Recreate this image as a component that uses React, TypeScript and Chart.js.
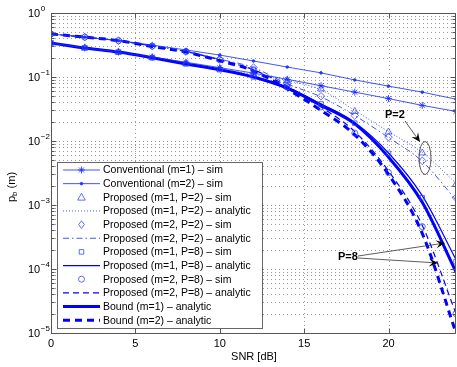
import React, { useEffect, useRef } from "react";
import { Chart, registerables } from "chart.js";

Chart.register(...registerables);

const snr = [0, 2, 4, 6, 8, 10, 12, 14, 16, 18, 20, 22, 24];
const xTickValues = [0, 5, 10, 15, 20];
const yDecades = [-5, -4, -3, -2, -1, 0];

const convM1 = [0.34, 0.285, 0.245, 0.205, 0.17, 0.14, 0.115, 0.092, 0.073, 0.058, 0.046, 0.036, 0.029];
const convM2 = [0.47, 0.42, 0.37, 0.315, 0.265, 0.22, 0.178, 0.143, 0.116, 0.09, 0.072, 0.058, 0.045];
const propM1P2Sim = [0.34, 0.285, 0.245, 0.2, 0.162, 0.133, 0.11, 0.088, 0.065, 0.029, 0.0138, 0.0065, 0.0021];
const propM1P2Ana = [0.34, 0.285, 0.245, 0.2, 0.162, 0.133, 0.11, 0.088, 0.063, 0.03, 0.014, 0.0066, 0.0022];
const propM2P2Sim = [0.47, 0.42, 0.37, 0.305, 0.25, 0.19, 0.14, 0.078, 0.05, 0.025, 0.0115, 0.0049, 0.0013];
const propM2P2Ana = [0.47, 0.42, 0.37, 0.305, 0.25, 0.19, 0.14, 0.078, 0.049, 0.025, 0.0113, 0.0048, 0.0012];
const propM1P8Sim = [0.34, 0.285, 0.245, 0.2, 0.16, 0.13, 0.1, 0.069, 0.038, 0.019, 0.0064, 0.0013, 0.00013];
const propM1P8Ana = [0.34, 0.285, 0.245, 0.2, 0.16, 0.13, 0.1, 0.069, 0.038, 0.0195, 0.0065, 0.0014, 0.00014];
const propM2P8Sim = [0.47, 0.42, 0.37, 0.305, 0.25, 0.185, 0.13, 0.072, 0.034, 0.0133, 0.0032, 0.00046, 0.00002];
const propM2P8Ana = [0.47, 0.42, 0.37, 0.305, 0.25, 0.185, 0.13, 0.072, 0.034, 0.014, 0.0034, 0.00048, 0.00002];
const boundM1 = [0.34, 0.285, 0.245, 0.2, 0.16, 0.13, 0.1, 0.067, 0.036, 0.0185, 0.0056, 0.0011, 0.00009];
const boundM2 = [0.47, 0.42, 0.37, 0.3, 0.245, 0.18, 0.125, 0.065, 0.03, 0.0125, 0.003, 0.00036, 0.00001];

const labels = [
  "Conventional (m=1) \u2013 sim",
  "Conventional (m=2) \u2013 sim",
  "Proposed (m=1, P=2) \u2013 sim",
  "Proposed (m=1, P=2) \u2013 analytic",
  "Proposed (m=2, P=2) \u2013 sim",
  "Proposed (m=2, P=2) \u2013 analytic",
  "Proposed (m=1, P=8) \u2013 sim",
  "Proposed (m=1, P=8) \u2013 analytic",
  "Proposed (m=2, P=8) \u2013 sim",
  "Proposed (m=2, P=8) \u2013 analytic",
  "Bound (m=1) \u2013 analytic",
  "Bound (m=2) \u2013 analytic",
];

const BLUE = "#0000ff";
const THIN = "rgba(20,40,255,0.8)";
const MARK = "rgba(40,60,255,0.75)";
const FONT = '"Liberation Sans", Arial, Helvetica, sans-serif';

function pts(vals: number[]) {
  return vals.map((v, i) => ({ x: snr[i], y: v }));
}

type Spec = {
  data: number[];
  line: boolean;
  width?: number;
  dash?: number[];
  marker?: string | false;
  radius?: number;
  fill?: boolean;
  color?: string;
  smooth?: boolean;
};

const specs: Spec[] = [
  { data: convM1, line: true, width: 1, marker: "star", radius: 3.5, color: THIN },
  { data: convM2, line: true, width: 1, marker: "circle", radius: 1.3, fill: true, color: THIN },
  { data: propM1P2Sim, line: false, marker: "triangle", radius: 4 },
  { data: propM1P2Ana, line: true, width: 1, dash: [1, 2], marker: false, color: THIN, smooth: true },
  { data: propM2P2Sim, line: false, marker: "rectRot", radius: 3.8 },
  { data: propM2P2Ana, line: true, width: 1, dash: [6, 3, 1.5, 3], marker: false, color: THIN, smooth: true },
  { data: propM1P8Sim, line: false, marker: "rect", radius: 3.2 },
  { data: propM1P8Ana, line: true, width: 1.2, marker: false, color: BLUE, smooth: true },
  { data: propM2P8Sim, line: false, marker: "circle", radius: 3 },
  { data: propM2P8Ana, line: true, width: 1.2, dash: [6, 4], marker: false, color: BLUE, smooth: true },
  { data: boundM1, line: true, width: 3, marker: false, color: BLUE, smooth: true },
  { data: boundM2, line: true, width: 3, dash: [7, 5], marker: false, color: BLUE, smooth: true },
];

function arrow(ctx: CanvasRenderingContext2D, x1: number, y1: number, x2: number, y2: number) {
  const ang = Math.atan2(y2 - y1, x2 - x1);
  const L = 9;
  const W = 4;
  ctx.beginPath();
  ctx.moveTo(x1, y1);
  ctx.lineTo(x2 - Math.cos(ang) * 4, y2 - Math.sin(ang) * 4);
  ctx.stroke();
  ctx.beginPath();
  ctx.moveTo(x2, y2);
  ctx.lineTo(x2 - L * Math.cos(ang) + W * Math.sin(ang), y2 - L * Math.sin(ang) - W * Math.cos(ang));
  ctx.lineTo(x2 - 0.6 * L * Math.cos(ang), y2 - 0.6 * L * Math.sin(ang));
  ctx.lineTo(x2 - L * Math.cos(ang) - W * Math.sin(ang), y2 - L * Math.sin(ang) + W * Math.cos(ang));
  ctx.closePath();
  ctx.fill();
}

function drawMarker(ctx: CanvasRenderingContext2D, style: string, x: number, y: number, r: number, fill: boolean) {
  ctx.beginPath();
  if (style === "circle") {
    ctx.arc(x, y, r, 0, Math.PI * 2);
    if (fill) ctx.fill();
    ctx.stroke();
  } else if (style === "triangle") {
    ctx.moveTo(x, y - r);
    ctx.lineTo(x + r * 0.95, y + r * 0.7);
    ctx.lineTo(x - r * 0.95, y + r * 0.7);
    ctx.closePath();
    ctx.stroke();
  } else if (style === "rectRot") {
    ctx.moveTo(x, y - r);
    ctx.lineTo(x + r * 0.75, y);
    ctx.lineTo(x, y + r);
    ctx.lineTo(x - r * 0.75, y);
    ctx.closePath();
    ctx.stroke();
  } else if (style === "rect") {
    const s = r * Math.SQRT1_2;
    ctx.rect(x - s, y - s, 2 * s, 2 * s);
    ctx.stroke();
  } else if (style === "star") {
    for (let k = 0; k < 4; k++) {
      const an = (k * Math.PI) / 4;
      ctx.moveTo(x + Math.cos(an) * r, y + Math.sin(an) * r);
      ctx.lineTo(x - Math.cos(an) * r, y - Math.sin(an) * r);
    }
    ctx.stroke();
  }
}

const matlabPlugin = {
  id: "matlabDecor",
  beforeDatasetsDraw(chart: any) {
    const { ctx, chartArea: a, scales } = chart;
    const x = scales.x;
    const y = scales.y;
    ctx.save();
    ctx.strokeStyle = "rgba(0,0,0,0.4)";
    ctx.lineWidth = 1;
    ctx.setLineDash([1, 3]);
    for (const e of yDecades) {
      for (let m = 1; m <= 9; m++) {
        const v = m * Math.pow(10, e);
        if (v > 1.0000001) break;
        const py = Math.round(y.getPixelForValue(v)) + 0.5;
        ctx.beginPath();
        ctx.moveTo(a.left, py);
        ctx.lineTo(a.right, py);
        ctx.stroke();
      }
    }
    for (const t of xTickValues) {
      const px = Math.round(x.getPixelForValue(t)) + 0.5;
      ctx.beginPath();
      ctx.moveTo(px, a.top);
      ctx.lineTo(px, a.bottom);
      ctx.stroke();
    }
    ctx.restore();
  },
  afterDraw(chart: any) {
    const { ctx, chartArea: a, scales } = chart;
    const x = scales.x;
    const y = scales.y;
    ctx.save();
    ctx.strokeStyle = "#555";
    ctx.lineWidth = 1;
    ctx.setLineDash([]);
    const L = Math.round(a.left) + 0.5;
    const T = Math.round(a.top) + 0.5;
    const B = Math.round(a.bottom) + 0.5;
    const R = Math.round(a.right) - 0.5;
    ctx.beginPath();
    ctx.moveTo(R, T);
    ctx.lineTo(L, T);
    ctx.lineTo(L, B);
    ctx.lineTo(R, B);
    ctx.lineTo(R, T);
    ctx.stroke();
    ctx.beginPath();
    for (const t of xTickValues) {
      const px = Math.round(x.getPixelForValue(t)) + 0.5;
      ctx.moveTo(px, B);
      ctx.lineTo(px, B - 5);
      ctx.moveTo(px, T);
      ctx.lineTo(px, T + 5);
    }
    for (const e of yDecades) {
      for (let m = 1; m <= 9; m++) {
        const v = m * Math.pow(10, e);
        if (v > 1.0000001) break;
        const py = Math.round(y.getPixelForValue(v)) + 0.5;
        const len = m === 1 ? 5 : 3;
        ctx.moveTo(L, py);
        ctx.lineTo(L + len, py);
        ctx.moveTo(R, py);
        ctx.lineTo(R - len, py);
      }
    }
    ctx.stroke();

    ctx.fillStyle = "#000";
    ctx.font = `11px ${FONT}`;
    ctx.textAlign = "center";
    ctx.textBaseline = "middle";
    for (const t of xTickValues) {
      ctx.fillText(String(t), x.getPixelForValue(t), 344);
    }
    for (const e of yDecades) {
      const py = y.getPixelForValue(Math.pow(10, e));
      ctx.font = `11px ${FONT}`;
      ctx.textAlign = "left";
      ctx.textBaseline = "middle";
      ctx.fillText("10", 28, py + 1);
      const w = ctx.measureText("10").width;
      ctx.font = `8px ${FONT}`;
      ctx.fillText(e === 0 ? "0" : "\u2212" + String(-e), 28 + w + 0.5, py - 4);
    }
    ctx.font = `11px ${FONT}`;
    ctx.textAlign = "center";
    ctx.textBaseline = "middle";
    ctx.fillText("SNR [dB]", (a.left + 457) / 2, 357);
    ctx.save();
    ctx.translate(12, 187);
    ctx.rotate(-Math.PI / 2);
    ctx.font = `11px ${FONT}`;
    ctx.textAlign = "left";
    ctx.textBaseline = "middle";
    const wp = ctx.measureText("p").width;
    ctx.font = `8px ${FONT}`;
    const wb = ctx.measureText("b").width;
    ctx.font = `11px ${FONT}`;
    const wm = ctx.measureText(" (m)").width;
    let cx = -(wp + wb + wm) / 2;
    ctx.fillText("p", cx, 0);
    cx += wp;
    ctx.font = `8px ${FONT}`;
    ctx.fillText("b", cx, 3);
    cx += wb;
    ctx.font = `11px ${FONT}`;
    ctx.fillText(" (m)", cx, 0);
    ctx.restore();

    const bx = 57.5, by = 162.5, bw = 205, bh = 166;
    ctx.fillStyle = "#fff";
    ctx.fillRect(bx, by, bw, bh);
    ctx.strokeStyle = "#666";
    ctx.lineWidth = 1;
    ctx.strokeRect(bx, by, bw, bh);
    const rowH = 13.65;
    specs.forEach((s, i) => {
      const ry = 170 + i * rowH;
      const col = s.color || BLUE;
      if (s.line) {
        ctx.save();
        ctx.strokeStyle = col;
        ctx.lineWidth = s.width || 1;
        ctx.setLineDash(s.dash || []);
        ctx.beginPath();
        ctx.moveTo(63, ry);
        ctx.lineTo(100, ry);
        ctx.stroke();
        ctx.restore();
      }
      if (s.marker) {
        ctx.save();
        ctx.strokeStyle = s.line ? col : MARK;
        ctx.fillStyle = s.fill ? col : "rgba(0,0,0,0)";
        ctx.lineWidth = 1;
        ctx.setLineDash([]);
        drawMarker(ctx, s.marker as string, 81.5, ry, s.radius || 3, !!s.fill);
        ctx.restore();
      }
      ctx.fillStyle = "#000";
      ctx.font = `10.5px ${FONT}`;
      ctx.textAlign = "left";
      ctx.textBaseline = "middle";
      ctx.fillText(labels[i], 103, ry + 0.5);
    });

    ctx.fillStyle = "#000";
    ctx.font = `bold 11px ${FONT}`;
    ctx.textAlign = "left";
    ctx.textBaseline = "middle";
    ctx.fillText("P=2", 385, 115);
    ctx.fillText("P=8", 338, 257);
    ctx.strokeStyle = "#333";
    ctx.fillStyle = "#000";
    ctx.lineWidth = 0.8;
    arrow(ctx, 405, 121, 420, 142);
    arrow(ctx, 358, 256, 445, 243);
    arrow(ctx, 358, 258, 438, 263);
    ctx.strokeStyle = "#555";
    ctx.lineWidth = 1;
    ctx.beginPath();
    ctx.ellipse(425, 158, 6, 16.5, 0, 0, Math.PI * 2);
    ctx.stroke();
    ctx.restore();
  },
};

export default function App() {
  const ref = useRef<HTMLCanvasElement | null>(null);
  useEffect(() => {
    if (!ref.current) return;
    const datasets = specs.map((s, i) => ({
      label: labels[i],
      data: pts(s.data),
      showLine: s.line,
      borderColor: s.color || BLUE,
      borderWidth: s.width || 1,
      borderDash: s.dash || [],
      cubicInterpolationMode: s.smooth ? "monotone" : "default",
      pointStyle: s.marker || false,
      pointRadius: s.marker ? s.radius || 3 : 0,
      pointBorderColor: s.line ? s.color || BLUE : MARK,
      pointBackgroundColor: s.fill ? s.color || BLUE : "rgba(0,0,0,0)",
      pointBorderWidth: 1,
      fill: false,
      tension: 0,
    }));
    const chart = new Chart(ref.current, {
      type: "line",
      data: { datasets: datasets as any },
      options: {
        animation: false,
        responsive: false,
        devicePixelRatio: 1,
        layout: { padding: { left: 51, top: 13, bottom: 34, right: 2 } },
        plugins: { legend: { display: false }, tooltip: { enabled: false } },
        scales: {
          x: { type: "linear", min: 0, max: 24, display: false },
          y: { type: "logarithmic", min: 1e-5, max: 1, display: false },
        },
      },
      plugins: [matlabPlugin as any],
    });
    return () => chart.destroy();
  }, []);
  return (
    <div style={{ position: "fixed", left: 0, top: 0, width: 457, height: 367, overflow: "hidden", background: "#fff" }}>
      <canvas ref={ref} width={461} height={367} style={{ display: "block" }} />
    </div>
  );
}
